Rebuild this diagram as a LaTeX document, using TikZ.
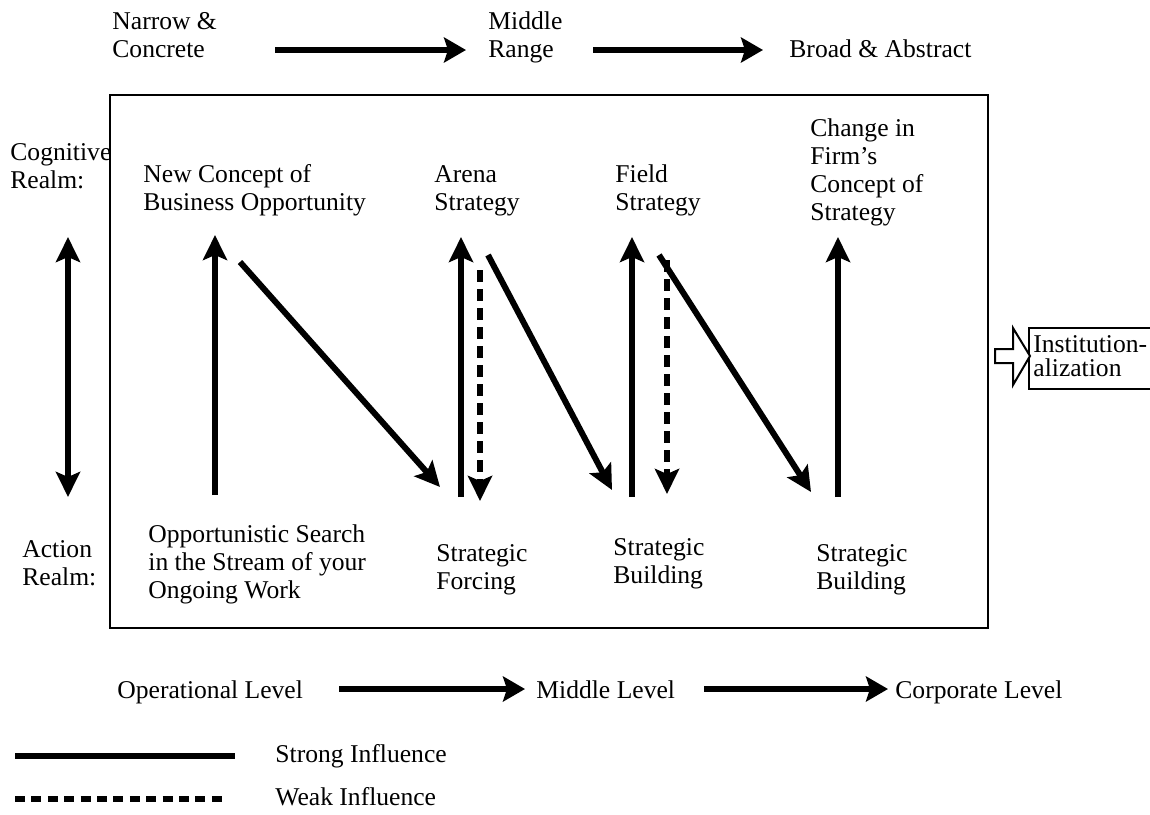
\documentclass[tikz,border=0pt]{standalone}
\usepackage{fontspec}
\setmainfont{Liberation Serif}
\usetikzlibrary{arrows.meta}
\begin{document}
\begin{tikzpicture}[x=0.5pt,y=-0.5pt,
  lbl/.style={anchor=base west, inner sep=0pt, align=left, font=\fontsize{12.8}{14}\selectfont},
  strong/.style={line width=3pt, -{Stealth[length=12.5pt,width=12pt,inset=2.5pt]}},
  weak/.style={line width=3pt, dash pattern=on 6pt off 3.5pt, -{Stealth[length=12.5pt,width=12pt,inset=2.5pt]}},
  scale arrow/.style={line width=2.6pt, -{Stealth[length=11pt,width=12.5pt,inset=2pt]}},
  frame/.style={line width=1pt}
]
\useasboundingbox (0,0) rectangle (1150,814);

% top scale (base = last line)
\node[lbl] (narrow) at (112,57) {Narrow \&\\Concrete};
\node[lbl] (middle) at (488,57) {Middle\\Range};
\node[lbl] (broad) at (789,57) {Broad \& Abstract};
\coordinate (ta1s) at (275,50); \coordinate (ta1e) at (466,50);
\coordinate (ta2s) at (593,50); \coordinate (ta2e) at (763,50);
\draw[scale arrow] (ta1s) -- (ta1e);
\draw[scale arrow] (ta2s) -- (ta2e);

% main frame
\draw[frame] (110,95) rectangle (988,628);

% left labels
\node[lbl] (cog) at (10,188) {Cognitive\\Realm:};
\node[lbl] (act) at (22,585) {Action\\Realm:};
\coordinate (dt) at (68,237); \coordinate (db) at (68,497);
\draw[line width=3pt, {Stealth[length=12.5pt,width=12pt,inset=2.5pt]}-{Stealth[length=12.5pt,width=12pt,inset=2.5pt]}] (dt) -- (db);

% cognitive realm texts
\node[lbl] (ncb) at (143,210) {New Concept of\\Business Opportunity};
\node[lbl] (arena) at (434,210) {Arena\\Strategy};
\node[lbl] (field) at (615,210) {Field\\Strategy};
\node[lbl] (change) at (810,220) {Change in\\Firm's\\Concept of\\Strategy};

% action realm texts
\node[lbl] (opp) at (148,598) {Opportunistic Search\\in the Stream of your\\Ongoing Work};
\node[lbl] (forcing) at (436,589) {Strategic\\Forcing};
\node[lbl] (build1) at (613,583) {Strategic\\Building};
\node[lbl] (build2) at (816,589) {Strategic\\Building};

% arrows
\coordinate (u1s) at (215,495); \coordinate (u1e) at (215,235);
\coordinate (d1s) at (240,262); \coordinate (d1e) at (440,487);
\coordinate (u2s) at (461,497); \coordinate (u2e) at (461,237);
\coordinate (w1s) at (480,270); \coordinate (w1e) at (480,501);
\coordinate (d2s) at (488,255); \coordinate (d2e) at (612,490);
\coordinate (u3s) at (632,497); \coordinate (u3e) at (632,237);
\coordinate (w2s) at (667,260); \coordinate (w2e) at (667,494);
\coordinate (d3s) at (659,255); \coordinate (d3e) at (811,492);
\coordinate (u4s) at (838,497); \coordinate (u4e) at (838,237);
\draw[strong] (u1s) -- (u1e);
\draw[strong] (d1s) -- (d1e);
\draw[strong] (u2s) -- (u2e);
\draw[weak] (w1s) -- (w1e);
\draw[strong] (d2s) -- (d2e);
\draw[strong] (u3s) -- (u3e);
\draw[weak] (w2s) -- (w2e);
\draw[strong] (d3s) -- (d3e);
\draw[strong] (u4s) -- (u4e);

% institutionalization
\draw[line width=1pt] (1029,328) rectangle (1152,389);
\draw[line width=1pt, fill=white] (995,349) -- (1013,349) -- (1013,328) -- (1030,356) -- (1013,385) -- (1013,363) -- (995,363) -- cycle;
\node[lbl, font=\fontsize{12.8}{12}\selectfont] (inst) at (1033,376) {Institution-\\alization};

% bottom scale
\node[lbl] (oper) at (117,698) {Operational Level};
\node[lbl] (midl) at (536,698) {Middle Level};
\node[lbl] (corp) at (895,698) {Corporate Level};
\coordinate (ba1s) at (339,689); \coordinate (ba1e) at (525,689);
\coordinate (ba2s) at (704,689); \coordinate (ba2e) at (888,689);
\draw[scale arrow] (ba1s) -- (ba1e);
\draw[scale arrow] (ba2s) -- (ba2e);

% legend
\coordinate (ls1) at (15,756); \coordinate (le1) at (235,756);
\coordinate (ls2) at (15,799); \coordinate (le2) at (225,799);
\draw[line width=3pt] (ls1) -- (le1);
\draw[line width=3pt, dash pattern=on 5pt off 3.2pt] (ls2) -- (le2);
\node[lbl] (strongl) at (275,762) {Strong Influence};
\node[lbl] (weakl) at (275,805) {Weak Influence};
\end{tikzpicture}
\end{document}
